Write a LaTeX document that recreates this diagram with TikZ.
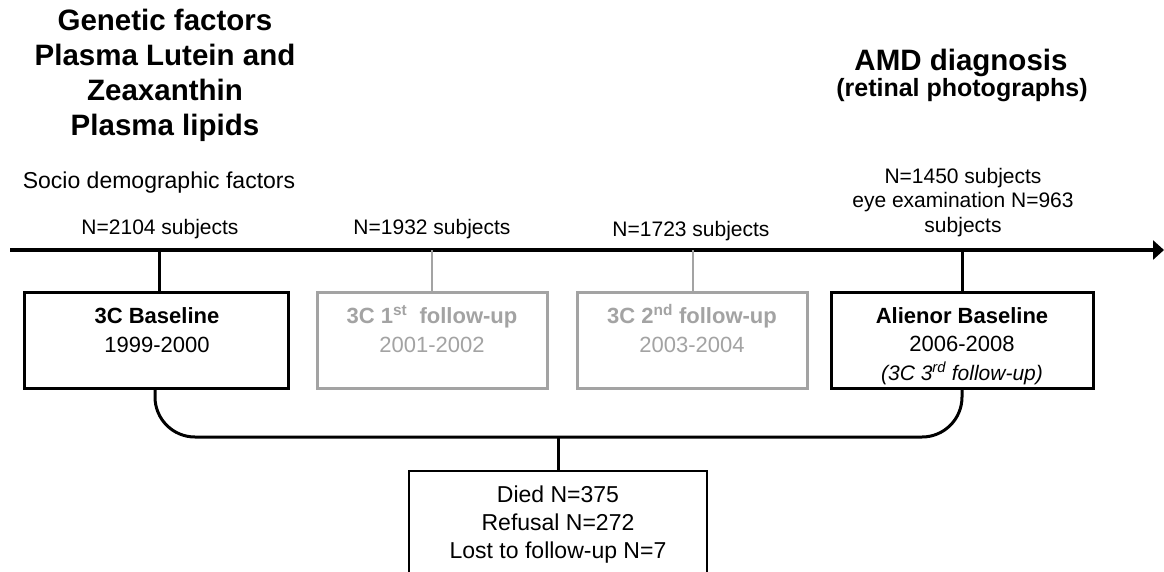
\documentclass[tikz,border=0pt]{standalone}
\usepackage{fontspec}
\setmainfont{Liberation Sans}
\usetikzlibrary{arrows.meta}
\definecolor{lgray}{HTML}{A3A3A3}
\begin{document}
\begin{tikzpicture}[x=1pt,y=-1pt,
  txt/.style={inner sep=0pt, anchor=base, align=center},
  blackbox/.style={draw=black, line width=3pt, minimum height=96pt, inner sep=0pt},
  graybox/.style={draw=lgray, line width=3pt, minimum height=96pt, minimum width=230pt, inner sep=0pt},
  blacktick/.style={draw=black, line width=3pt},
  graytick/.style={draw=lgray, line width=2.5pt},
  bracket/.style={draw=black, line width=3pt, rounded corners=40pt},
  lossbox/.style={draw=black, line width=2pt, minimum width=298pt, minimum height=150pt, inner sep=0pt}
]
\clip (0,0) rectangle (1164,571);
\fill[white] (0,0) rectangle (1164,571);

% headings (anchor=base is the baseline of the last line)
\node[txt, font=\bfseries\fontsize{29.5}{35}\selectfont] (genetic) at (165,135)
  {Genetic factors\\Plasma Lutein and\\Zeaxanthin\\Plasma lipids};
\node[txt, font=\bfseries\fontsize{29.5}{35}\selectfont] (amd) at (961,70) {AMD diagnosis};
\node[txt, font=\bfseries\fontsize{25}{30}\selectfont] (amdsub) at (962,96) {(retinal photographs)};
\node[txt, font=\fontsize{23}{28}\selectfont] (socio) at (159,188) {Socio demographic factors};

% counts
\node[txt, font=\fontsize{21}{24.5}\selectfont] (n1) at (160,234) {N=2104 subjects};
\node[txt, font=\fontsize{21}{24.5}\selectfont] (n2) at (432,234) {N=1932 subjects};
\node[txt, font=\fontsize{21}{24.5}\selectfont] (n3) at (691,236) {N=1723 subjects};
\node[txt, font=\fontsize{21}{24.5}\selectfont] (n4) at (963,232) {N=1450 subjects\\eye examination N=963\\subjects};

% timeline
\coordinate (tl0) at (10,250);
\coordinate (tl1) at (1164,250);
\draw[line width=4.5pt, -{Triangle[length=11pt,width=19pt]}] (tl0) -- (tl1);
\coordinate (t1) at (159,250);
\coordinate (t2) at (432,250);
\coordinate (t3) at (693,250);
\coordinate (t4) at (962,250);

% boxes
\node[blackbox, minimum width=264pt] (b1) at (156,340) {};
\node[graybox] (b2) at (432,340) {};
\node[graybox] (b3) at (692,340) {};
\node[blackbox, minimum width=262pt] (b4) at (962,340) {};

\draw[blacktick] (t1) -- (t1 |- b1.north);
\draw[graytick] (t2) -- (t2 |- b2.north);
\draw[graytick] (t3) -- (t3 |- b3.north);
\draw[blacktick] (t4) -- (t4 |- b4.north);

% box texts
\node[txt, font=\fontsize{22}{29.5}\selectfont] (b1t) at (157,352.5) {\textbf{3C Baseline}\\1999-2000};
\node[txt, text=lgray, font=\fontsize{22}{29.5}\selectfont] (b2t) at (432,352.5) {\textbf{3C 1\textsuperscript{st}\ \ follow-up}\\2001-2002};
\node[txt, text=lgray, font=\fontsize{22}{29.5}\selectfont] (b3t) at (692,352.5) {\textbf{3C 2\textsuperscript{nd} follow-up}\\2003-2004};
\node[txt, font=\fontsize{22}{28.5}\selectfont] (b4t) at (962,380) {\textbf{Alienor Baseline}\\2006-2008\\{\itshape\fontsize{21}{28.5}\selectfont (3C 3\textsuperscript{rd} follow-up)}};

% bracket
\coordinate (brk) at (558,437);
\draw[bracket] ([xshift=-1pt]b1.south) -- ([xshift=-1pt]b1.south |- brk) -- (b4.south |- brk) -- (b4.south);
\node[lossbox] (loss) at (558,546) {};
\draw[blacktick] (brk) -- (loss.north);
\node[txt, font=\fontsize{23}{28}\selectfont] (losst) at (558,558) {Died N=375\\Refusal N=272\\Lost to follow-up N=7};
\end{tikzpicture}
\end{document}
